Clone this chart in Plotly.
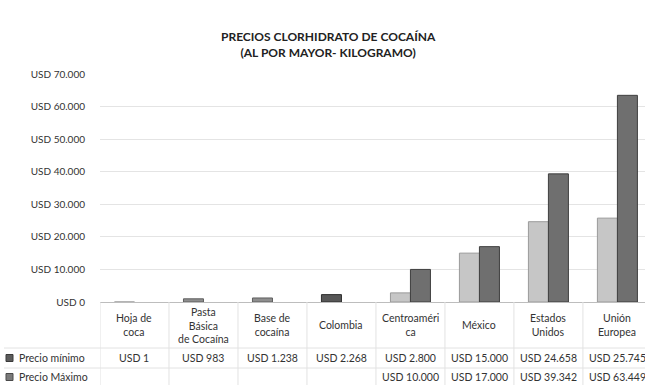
import plotly.graph_objects as go

# Categories and series values (USD per kilogram)
categorias = ["Hoja de<br>coca", "Pasta<br>Básica<br>de Cocaína", "Base de<br>cocaína", "Colombia",
              "Centroaméri<br>ca", "México", "Estados<br>Unidos", "Unión<br>Europea"]
precio_minimo = [1, 983, 1238, 2268, 2800, 15000, 24658, 25745]
precio_maximo = [None, None, None, None, 10000, 17000, 39342, 63449]
tick_vals = [0, 10000, 20000, 30000, 40000, 50000, 60000, 70000]
tick_text = ["USD 0", "USD 10.000", "USD 20.000", "USD 30.000", "USD 40.000",
             "USD 50.000", "USD 60.000", "USD 70.000"]

W, H = 645, 385
M_L, M_R, M_T, M_B = 100, 0, 74, 83
FONT = "Lato"
TXT = "#333333"


def fmt_usd(v):
    return "" if v is None else "USD " + f"{v:,}".replace(",", ".")


def py(p):
    """Pixel row -> paper y coordinate."""
    return (H - M_B - p) / (H - M_T - M_B)


def px(p):
    """Pixel column -> paper x coordinate."""
    return (p - M_L) / (W - M_L - M_R)


x = list(range(len(categorias)))
min_colors = ["#c2c2c2", "#8e8e8e", "#8e8e8e", "#575757",
              "#c6c6c6", "#c6c6c6", "#c6c6c6", "#c6c6c6"]
min_lines = ["#9a9a9a", "#5e5e5e", "#5e5e5e", "#2e2e2e",
             "#9a9a9a", "#9a9a9a", "#9a9a9a", "#9a9a9a"]

fig = go.Figure()
fig.add_trace(go.Bar(x=x, y=precio_minimo, name="Precio mínimo",
                     marker=dict(color=min_colors, line=dict(color=min_lines, width=1))))
fig.add_trace(go.Bar(x=x, y=precio_maximo, name="Precio Máximo",
                     marker=dict(color="#6f6f6f", line=dict(color="#3f3f3f", width=1))))

annotations = [
    dict(text="<b>PRECIOS CLORHIDRATO DE COCAÍNA<br>(AL POR MAYOR- KILOGRAMO)</b>",
         xref="paper", yref="paper", x=px(328), y=py(44),
         xanchor="center", yanchor="middle", showarrow=False,
         font=dict(family=FONT, size=12, color="#222222")),
]

# Data table under the axis
for i, cat in enumerate(categorias):
    annotations.append(dict(text=cat, x=i, xref="x", yref="paper", y=py(325),
                            xanchor="center", yanchor="middle", showarrow=False,
                            font=dict(family=FONT, size=10.5, color=TXT)))
    annotations.append(dict(text=fmt_usd(precio_minimo[i]), x=i, xref="x", yref="paper",
                            y=py(358), xanchor="center", yanchor="middle", showarrow=False,
                            font=dict(family=FONT, size=10.5, color=TXT)))
    annotations.append(dict(text=fmt_usd(precio_maximo[i]), x=i, xref="x", yref="paper",
                            y=py(377), xanchor="center", yanchor="middle", showarrow=False,
                            font=dict(family=FONT, size=10.5, color=TXT)))

series_rows = [("Precio mínimo", 358, "#5c5c5c", "#3a3a3a"),
               ("Precio Máximo", 377, "#7a7a7a", "#4a4a4a")]
shapes = []
for label, row, fill, edge in series_rows:
    annotations.append(dict(text=label, xref="paper", yref="paper",
                            x=px(17), y=py(row),
                            xanchor="left", yanchor="middle", showarrow=False,
                            font=dict(family=FONT, size=10.5, color=TXT)))
    shapes.append(dict(type="rect", xref="paper", yref="paper",
                       x0=px(6), x1=px(13), y0=py(row - 3.5), y1=py(row + 3.5),
                       fillcolor=fill, line=dict(color=edge, width=1)))

grid_col = "#e2e2e2"
for k in range(len(categorias) + 1):
    shapes.append(dict(type="line", xref="x", yref="paper", x0=k - 0.5, x1=k - 0.5,
                       y0=py(302), y1=py(385), line=dict(color=grid_col, width=1)))
for row in (348, 368):
    shapes.append(dict(type="line", xref="paper", yref="paper",
                       x0=px(4), x1=1, y0=py(row), y1=py(row),
                       line=dict(color=grid_col, width=1)))

fig.update_layout(
    width=W, height=H,
    margin=dict(l=M_L, r=M_R, t=M_T, b=M_B),
    paper_bgcolor="white", plot_bgcolor="white",
    barmode="group", bargap=0.42, bargroupgap=0,
    showlegend=False,
    annotations=annotations, shapes=shapes,
    font=dict(family=FONT, size=10, color=TXT),
    xaxis=dict(range=[-0.5, 7.4], showticklabels=False, ticks="", showgrid=False,
               zeroline=False, showline=False, fixedrange=True),
    yaxis=dict(range=[0, 70000], tickvals=tick_vals, ticktext=tick_text,
               showgrid=True, gridcolor="#e4e4e4", gridwidth=1,
               zeroline=True, zerolinecolor="#bdbdbd", zerolinewidth=1,
               showline=False, ticks="", ticklabelstandoff=14,
               tickfont=dict(family=FONT, size=10, color=TXT), fixedrange=True),
)

fig.write_html("out.html")
